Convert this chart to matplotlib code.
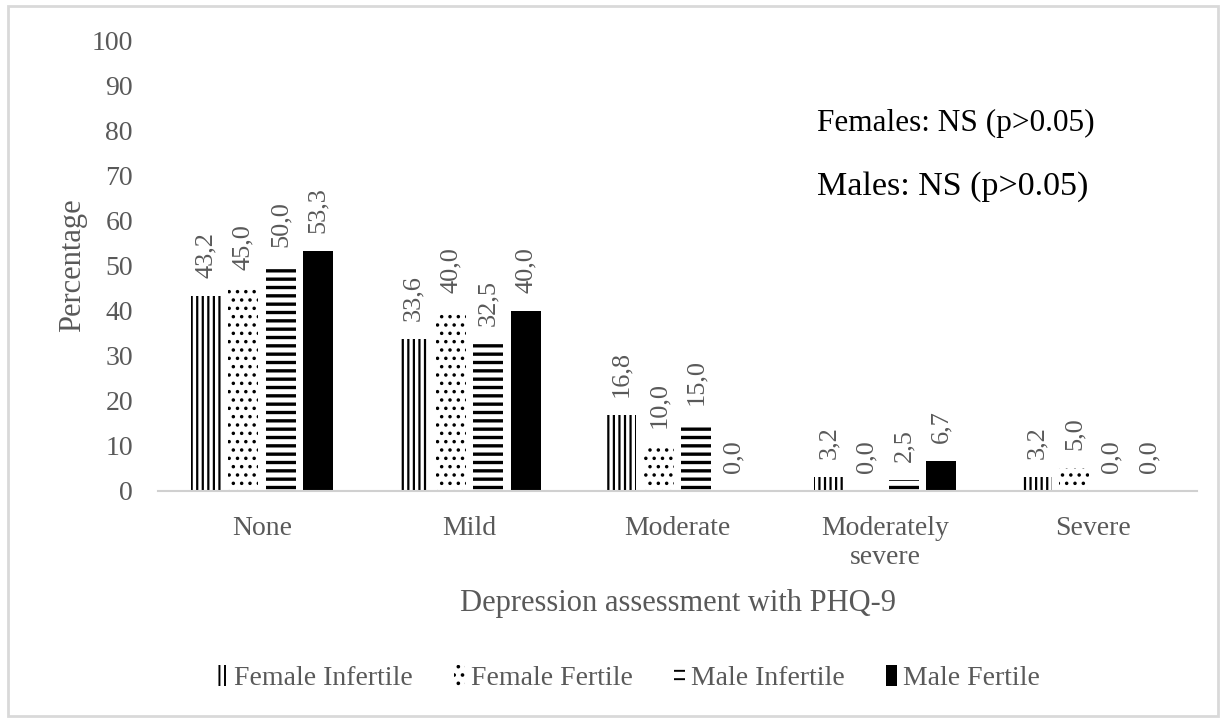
import numpy as np
import matplotlib
matplotlib.use('Agg')
import matplotlib.pyplot as plt
from matplotlib.patches import Rectangle

# data
categories = ['None', 'Mild', 'Moderate', 'Moderately\nsevere', 'Severe']
series = ['Female Infertile', 'Female Fertile', 'Male Infertile', 'Male Fertile']
female_infertile = [43.2, 33.6, 16.8, 3.2, 3.2]
female_fertile = [45.0, 40.0, 10.0, 0.0, 5.0]
male_infertile = [50.0, 32.5, 15.0, 2.5, 0.0]
male_fertile = [53.3, 40.0, 0.0, 6.7, 0.0]
values = [female_infertile, female_fertile, male_infertile, male_fertile]
hatches = ['|||', '..', '--', '']
hatch_lw = [1.6, 1.3, 2.4, 1.0]

gray = '#595959'
plt.rcParams['font.family'] = ['Liberation Serif', 'DejaVu Serif']
plt.rcParams['hatch.color'] = 'black'
plt.rcParams['hatch.linewidth'] = 1.4

fig = plt.figure(figsize=(12.25, 7.21), dpi=100)
ax = fig.add_axes([158/1225, 1-491/721, (1197-158)/1225, (491-40)/721])

x = np.arange(len(categories))
step = 0.18
width = 0.145
for i, vals in enumerate(values):
    pos = x + (i - 1.5) * step
    fc = 'black' if hatches[i] == '' else 'white'
    bars = ax.bar(pos, vals, width, color=fc, edgecolor='black', linewidth=0,
                  hatch=hatches[i] if hatches[i] else None, label=series[i])
    for b in bars:
        if hasattr(b, 'set_hatch_linewidth'):
            b.set_hatch_linewidth(hatch_lw[i])
    for p, v in zip(pos, vals):
        ax.annotate(f'{v:.1f}'.replace('.', ','), (p, v), xytext=(0, 13),
                    textcoords='offset points', rotation=90, ha='center',
                    va='bottom', fontsize=19, color=gray)

ax.set_xlim(-0.5, 4.5)
ax.set_ylim(0, 100)
ax.set_yticks(range(0, 101, 10))
ax.set_xticks(x)
ax.set_xticklabels(categories)
ax.tick_params(axis='both', length=0, labelsize=20, labelcolor=gray)
ax.tick_params(axis='y', pad=18)
ax.tick_params(axis='x', pad=18)
for s in ['top', 'right', 'left']:
    ax.spines[s].set_visible(False)
ax.spines['bottom'].set_color('#d0d0d0')
ax.spines['bottom'].set_linewidth(1.5)

ax.set_ylabel('Percentage', fontsize=22, color=gray, labelpad=3)
ax.set_xlabel('Depression assessment with PHQ-9', fontsize=22, color=gray, labelpad=14)

ax.text(2.67, 81.5, 'Females: NS (p>0.05)', fontsize=22.5, color='black', va='center')
ax.text(2.67, 67.5, 'Males: NS (p>0.05)', fontsize=24.5, color='black', va='center')

leg = fig.legend(loc='center', bbox_to_anchor=(0.513, 1-678/721), ncol=4, frameon=False,
                 fontsize=20, handlelength=0.4, handleheight=0.8, handletextpad=0.2,
                 columnspacing=1.5, labelcolor=gray)

fig.patches.append(Rectangle((8/1225, 1-716/721), 1210/1225, 710/721,
                             transform=fig.transFigure, fill=False,
                             edgecolor='#d9d9d9', linewidth=2))

fig.savefig('out.png', dpi=100)
